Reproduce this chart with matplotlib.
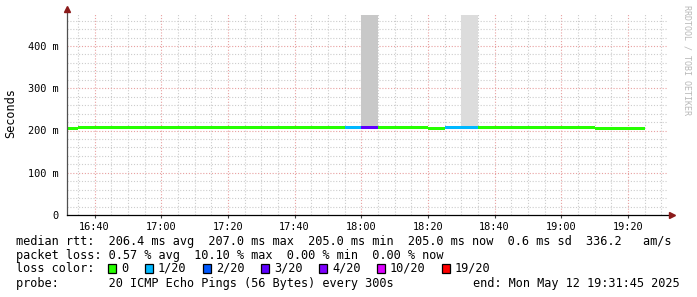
import matplotlib
matplotlib.use("Agg")
import matplotlib.pyplot as plt
from matplotlib.patches import Rectangle

W, H = 697, 297
MONO = "DejaVu Sans Mono"

# 5 minute bins, minutes after 16:00 (16:30 ... 19:20)
bin_start = list(range(30, 205, 5))
median_ms = [205, 207, 207, 207, 207, 207, 207, 208, 207, 207,
             207, 207, 207, 207, 207, 207, 207, 206, 206, 207,
             207, 207, 205, 206, 206, 207, 207, 207, 207, 207,
             207, 207, 205, 205, 205]
loss_n = [0, 0, 0, 0, 0, 0, 0, 0, 0, 0,
          0, 0, 0, 0, 0, 0, 0, 1, 3, 0,
          0, 0, 0, 1, 1, 0, 0, 0, 0, 0,
          0, 0, 0, 0, 0]

# smoke (ping spread) bars
smoke_start = [65, 120, 150]
smoke_low = [207, 208, 208]
smoke_high = [210, 473, 473]
smoke_color = ["#e4e4e4", "#c8c8c8", "#dcdcdc"]

loss_keys = [0, 1, 2, 3, 4, 10, 19]
loss_labels = ["0", "1/20", "2/20", "3/20", "4/20", "10/20", "19/20"]
loss_colors = ["#26ff00", "#00b8ff", "#0059ff", "#5e00ff", "#7e00ff", "#dd00ff", "#ff0000"]
key_box_x = [108, 145, 203, 261, 319, 377, 442]
key_text_x = [121, 158, 216, 274, 332, 390, 455]

xticks = [40, 60, 80, 100, 120, 140, 160, 180, 200]
xticklabels = ["16:40", "17:00", "17:20", "17:40", "18:00", "18:20", "18:40", "19:00", "19:20"]
yticks = [0, 100, 200, 300, 400]
yticklabels = ["0", "100 m", "200 m", "300 m", "400 m"]

x0, x1 = 31.75, 211.75
y0, y1 = 0, 478

fig = plt.figure(figsize=(W / 100, H / 100), dpi=100)
ax_left, ax_bottom = 67 / W, 82 / H
ax_w = 600 / W
ax_h = (y1 * 0.4225) / H
ax = fig.add_axes([ax_left, ax_bottom, ax_w, ax_h])
ax.set_xlim(x0, x1)
ax.set_ylim(y0, y1)

# grid
dot = (0, (1, 1.6))
for m in range(35, 212, 5):
    major = m % 20 == 0
    ax.axvline(m, color="#e8a0a0" if major else "#cccccc", lw=0.8, ls=dot, zorder=0)
for v in range(20, 478, 20):
    major = v % 100 == 0
    ax.axhline(v, color="#e8a0a0" if major else "#cccccc", lw=0.8, ls=dot, zorder=0)

# smoke
for s, lo, hi, c in zip(smoke_start, smoke_low, smoke_high, smoke_color):
    ax.bar(s, hi - lo, bottom=lo, width=5, align="edge", color=c, lw=0, zorder=1)

# median line coloured by loss
def loss_color(n):
    c = loss_colors[0]
    for k, col in zip(loss_keys, loss_colors):
        if n >= k:
            c = col
    return c

cols = [loss_color(n) for n in loss_n]
ax.bar(bin_start, [7.0] * len(bin_start), bottom=[v - 3.5 for v in median_ms],
       width=5, align="edge", color=cols, lw=0, zorder=2)

ax.set_xticks(xticks)
ax.set_xticklabels(xticklabels, fontfamily=MONO, fontsize=7.4)
ax.set_yticks(yticks)
ax.set_yticklabels(yticklabels, fontfamily=MONO, fontsize=7.4)
ax.tick_params(axis="x", length=2, pad=3, color="#404040")
ax.tick_params(axis="y", length=0, pad=6)
for sp in ax.spines.values():
    sp.set_visible(False)

# axes with arrows
ax.plot([0, 0], [0, 1.02], transform=ax.transAxes, color="#505050", lw=0.9, clip_on=False, zorder=5)
ax.plot([0, 1.008], [0, 0], transform=ax.transAxes, color="#000000", lw=0.9, clip_on=False, zorder=5)
ax.plot([0], [1.02], transform=ax.transAxes, marker="^", ms=4, color="#8b1a1a", clip_on=False, zorder=6)
ax.plot([1.008], [0], transform=ax.transAxes, marker=">", ms=4, color="#8b1a1a", clip_on=False, zorder=6)

def ftext(x, y, s, **kw):
    kw.setdefault("fontfamily", MONO)
    kw.setdefault("fontsize", 8.6)
    kw.setdefault("va", "center")
    fig.text(x / W, 1 - y / H, s, **kw)

ftext(11, 113, "Seconds", rotation=90, ha="center")
ftext(687, 5, "RRDTOOL / TOBI OETIKER", rotation=-90, ha="center", va="top",
      fontsize=6, color="#b8b8b8")

ftext(16, 241, "median rtt:  206.4 ms avg  207.0 ms max  205.0 ms min  205.0 ms now  0.6 ms sd  336.2   am/s")
ftext(16, 255, "packet loss: 0.57 % avg  10.10 % max  0.00 % min  0.00 % now")
ftext(16, 268, "loss color:")
for bx, tx, lab, col in zip(key_box_x, key_text_x, loss_labels, loss_colors):
    fig.patches.append(Rectangle((bx / W, 1 - 273 / H), 8 / W, 9 / H, transform=fig.transFigure,
                                 facecolor=col, edgecolor="black", lw=0.9))
    ftext(tx, 268, lab)
ftext(16, 283, "probe:       20 ICMP Echo Pings (56 Bytes) every 300s")
ftext(680, 283, "end: Mon May 12 19:31:45 2025", ha="right")

fig.savefig("out.png", dpi=100)
